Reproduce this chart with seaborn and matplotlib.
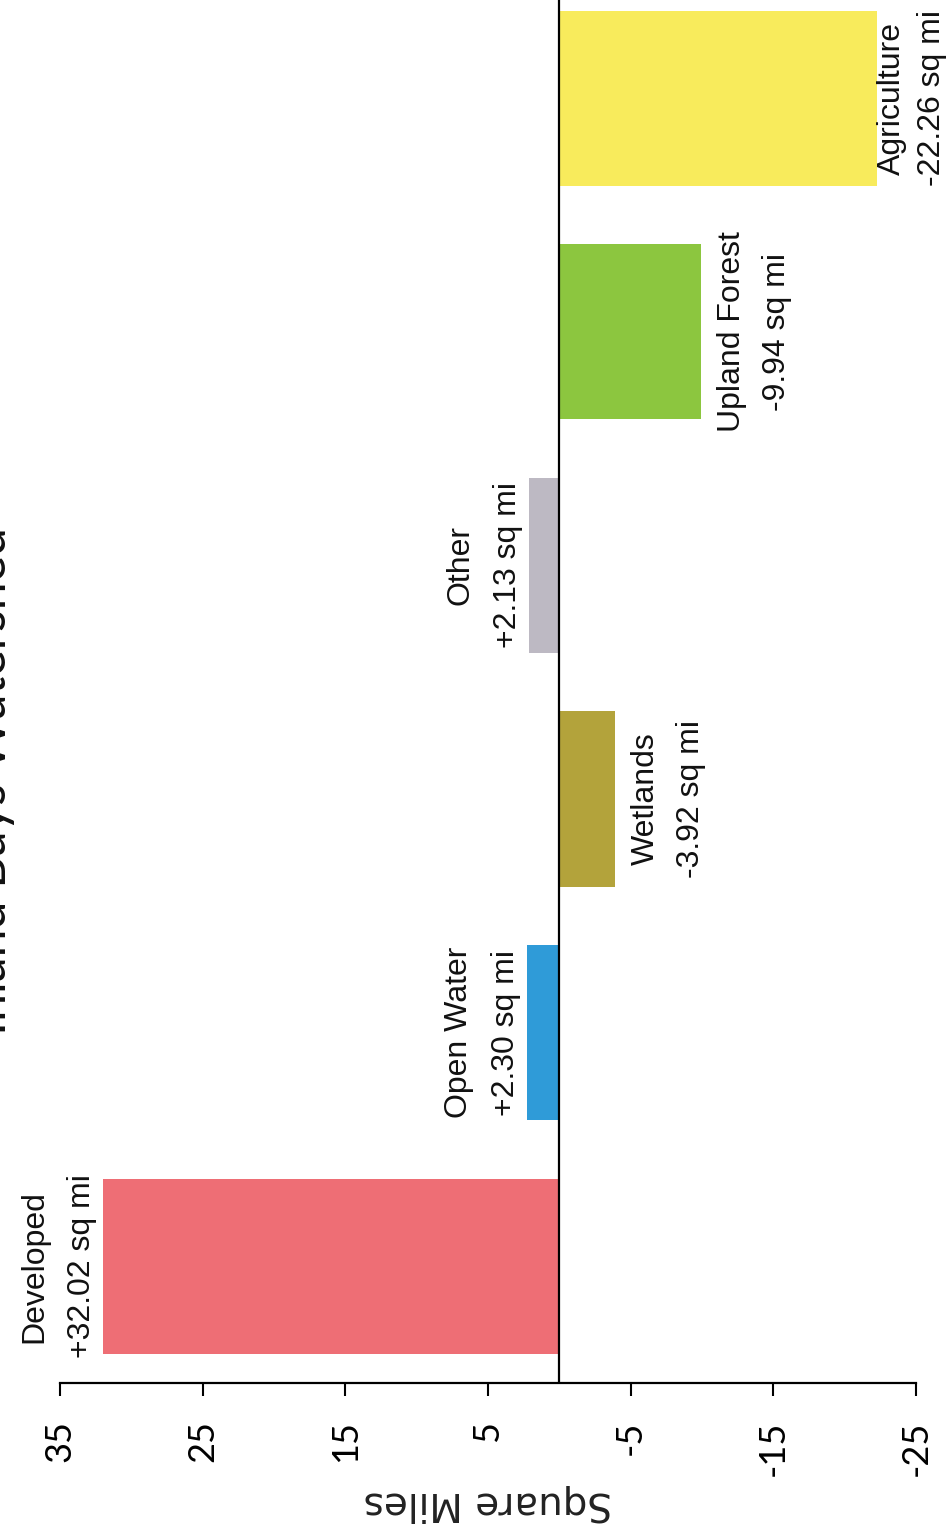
import matplotlib
matplotlib.use("Agg")
import matplotlib.pyplot as plt
import seaborn as sns

# Change in land cover, Inland Bays watershed (square miles)
categories = ["Agriculture", "Upland Forest", "Other", "Wetlands", "Open Water", "Developed"]
changes = [-22.26, -9.94, 2.13, -3.92, 2.30, 32.02]
bar_colors = ["#F8EB5C", "#8CC63F", "#BDB9C3", "#B3A33B", "#2F9BD8", "#EE6E75"]
value_ticks = [35, 25, 15, 5, -5, -15, -25]
title = "Inland Bays Watershed"
axis_label = "Square Miles"

sns.set_theme(style="ticks")
plt.rcParams["font.family"] = ["Lato", "DejaVu Sans"]

W, H = 951, 1536
fig = plt.figure(figsize=(W / 100, H / 100), dpi=100)
fig.patch.set_facecolor("white")
ax = fig.add_axes([60 / W, 153 / H, 856 / W, 1401.5 / H])

sns.barplot(x=changes, y=categories, hue=categories, palette=bar_colors,
            orient="h", width=0.75, saturation=1, legend=False,
            linewidth=0, ax=ax)

ax.set_xlim(35, -25)
ax.set_ylim(len(categories) - 0.5, -0.5)
ax.axvline(0, color="black", lw=1.6, zorder=5)

ax.set_xticks(value_ticks)
ax.set_xticklabels([str(t) for t in value_ticks])
ax.tick_params(axis="x", direction="out", length=9, width=1.5, pad=18,
               labelsize=26, labelrotation=90, colors="black")
ax.tick_params(axis="y", left=False, labelleft=False)
ax.set_ylabel("")
ax.set_xlabel(axis_label, rotation=180, fontsize=28, labelpad=6,
              color="#222222", family=["DejaVu Sans"])

for side in ("left", "top", "right"):
    ax.spines[side].set_visible(False)
ax.spines["bottom"].set_linewidth(1.6)
ax.spines["bottom"].set_color("black")

# Two-line labels (name, change) set just beyond the end of each bar,
# kept inside the right edge of the figure.
label_font = dict(family=["Liberation Sans", "DejaVu Sans"], fontsize=23, color="#111111")
line_h = 29
for i, (cat, v) in enumerate(zip(categories, changes)):
    value_text = f"{v:+.2f} sq mi"
    end_px = ax.transData.transform((v, i))[0]
    if v >= 0:
        lines = [(cat, -60, "baseline"), (value_text, -13, "baseline")]
    else:
        sep, start = 45, 16
        if end_px + start + sep + line_h > W - 6:
            sep = 40
            start = max(0, (W - 6) - (end_px + sep + line_h))
        lines = [(cat, start, "top"), (value_text, start + sep, "top")]
    for txt, dx, va in lines:
        ax.annotate(txt, xy=(v, i), xytext=(dx, 0), textcoords="offset pixels",
                    rotation=90, rotation_mode="anchor", ha="center", va=va,
                    **label_font)

fig.text(6 / W, 1 - 781 / H, title, rotation=90, rotation_mode="anchor",
         ha="center", va="baseline", fontsize=36, color="#111111")

fig.savefig("out.png", dpi=100, facecolor="white")
